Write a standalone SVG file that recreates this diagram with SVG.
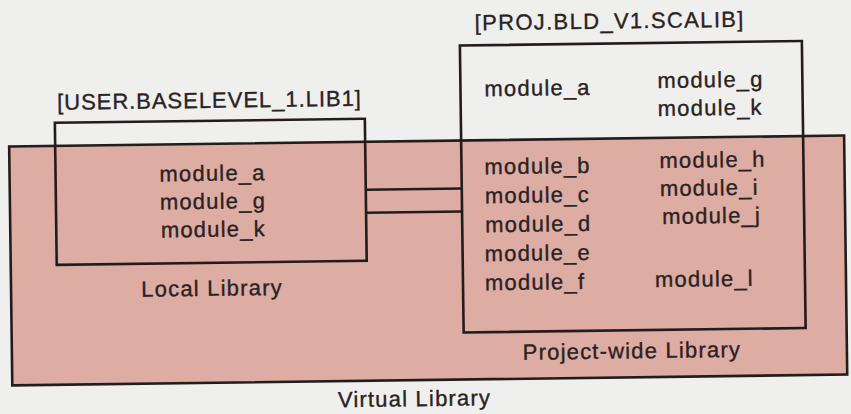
<svg xmlns="http://www.w3.org/2000/svg" width="851" height="414" viewBox="0 0 851 414">
  <style>
    .box { fill: none; stroke: #231c1c; stroke-width: 2.6; }
    .virt { fill: #ddaca3; stroke: #231c1c; stroke-width: 2.6; }
    .conn { stroke: #231c1c; stroke-width: 2.6; fill: none; }
    text { font-family: "Liberation Sans", Arial, sans-serif; font-size: 22px; fill: #2a2222; stroke: #2a2222; stroke-width: 0.35; letter-spacing: 1.2px; }
    .mid { text-anchor: middle; }
  </style>
  <rect x="0" y="0" width="851" height="414" fill="#efefed"/>
  <g transform="rotate(-0.75 425 207)">
    <g id="virtual-library">
      <rect class="virt" x="10" y="141" width="835" height="239"/>
      <text class="mid" x="412" y="406">Virtual Library</text>
    </g>
    <g id="connectors">
      <line class="conn" x1="366" y1="189" x2="462" y2="189"/>
      <line class="conn" x1="366" y1="212" x2="462" y2="212"/>
    </g>
    <g id="local-library">
      <rect class="box" x="56" y="118" width="310" height="142"/>
      <text class="mid" x="211" y="105" textLength="305" lengthAdjust="spacing">[USER.BASELEVEL_1.LIB1]</text>
      <text class="mid" x="213" y="178">module_a</text>
      <text class="mid" x="213" y="206">module_g</text>
      <text class="mid" x="213" y="234">module_k</text>
      <text class="mid" x="211" y="293">Local Library</text>
    </g>
    <g id="project-library">
      <rect class="box" x="462" y="46" width="342" height="287"/>
      <text class="mid" x="612" y="31" textLength="270" lengthAdjust="spacing">[PROJ.BLD_V1.SCALIB]</text>
      <text x="486" y="97">module_a</text>
      <text x="659" y="91">module_g</text>
      <text x="659" y="119">module_k</text>
      <text x="485" y="175">module_b</text>
      <text x="485" y="204">module_c</text>
      <text x="485" y="233">module_d</text>
      <text x="484" y="262">module_e</text>
      <text x="484" y="291">module_f</text>
      <text x="660" y="171">module_h</text>
      <text x="660" y="199">module_i</text>
      <text x="662" y="227">module_j</text>
      <text x="654" y="290">module_l</text>
      <text class="mid" x="630" y="361">Project-wide Library</text>
    </g>
  </g>
</svg>
